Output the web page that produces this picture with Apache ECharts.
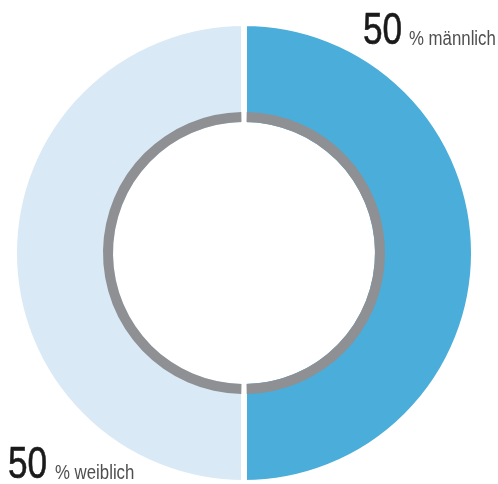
<!DOCTYPE html>
<html>
<head>
<meta charset="utf-8">
<script src="https://cdn.jsdelivr.net/npm/echarts@6/dist/echarts.min.js"></script>
<style>
  html, body { margin: 0; padding: 0; background: #fff; }
  #chart { width: 498px; height: 484px; }
</style>
</head>
<body>
<div id="chart"></div>
<script>
// Gender split
const categories = ['männlich', 'weiblich'];
const shares = [50, 50];
const unit = '%';

const sliceColors = ['#4badd9', '#d9e9f5'];
const ringColor = '#8e9093';
const fontFamily = '"Liberation Sans", Arial, sans-serif';

const chart = echarts.init(document.getElementById('chart'), null, { renderer: 'canvas' });

const center = [244, 253];

// Label blocks: big number followed by a smaller unit + category,
// both sharing one baseline; text is squeezed horizontally for a condensed look.
const bigSize = 44;
const smallSize = 20;
const labelAnchors = [
  { numX: 363, sufX: 409, baseY: 45 },
  { numX: 8, sufX: 55, baseY: 479 }
];

const graphics = [];
categories.forEach((cat, i) => {
  const a = labelAnchors[i];
  graphics.push({
    type: 'text',
    x: a.numX,
    y: a.baseY + bigSize * 0.2,
    scaleX: 0.8,
    silent: true,
    style: {
      text: String(shares[i]),
      fill: '#1a1a1a',
      font: bigSize + 'px ' + fontFamily,
      stroke: '#1a1a1a',
      lineWidth: 0.6,
      textAlign: 'left',
      textVerticalAlign: 'bottom',
      align: 'left',
      verticalAlign: 'bottom'
    }
  });
  graphics.push({
    type: 'text',
    x: a.sufX,
    y: a.baseY + smallSize * 0.2,
    scaleX: 0.84,
    silent: true,
    style: {
      text: unit + ' ' + cat,
      fill: '#4f4f4f',
      font: smallSize + 'px ' + fontFamily,
      textAlign: 'left',
      textVerticalAlign: 'bottom',
      align: 'left',
      verticalAlign: 'bottom'
    }
  });
});

chart.setOption({
  animation: false,
  backgroundColor: '#ffffff',
  graphic: graphics,
  series: [
    {
      type: 'pie',
      center: center,
      radius: [128, 230],
      startAngle: 90,
      clockwise: true,
      silent: true,
      label: { show: false },
      labelLine: { show: false },
      emphasis: { disabled: true },
      itemStyle: { borderColor: '#ffffff', borderWidth: 6 },
      data: categories.map((c, i) => ({
        name: c,
        value: shares[i],
        itemStyle: { color: sliceColors[i] }
      })),
      z: 1
    },
    {
      type: 'pie',
      center: center,
      radius: [131, 141],
      startAngle: 90,
      clockwise: true,
      padAngle: 2.2,
      silent: true,
      label: { show: false },
      labelLine: { show: false },
      emphasis: { disabled: true },
      itemStyle: { color: ringColor, borderWidth: 0 },
      data: categories.map((c, i) => ({ name: c, value: shares[i] })),
      z: 2
    }
  ]
});
</script>
</body>
</html>
